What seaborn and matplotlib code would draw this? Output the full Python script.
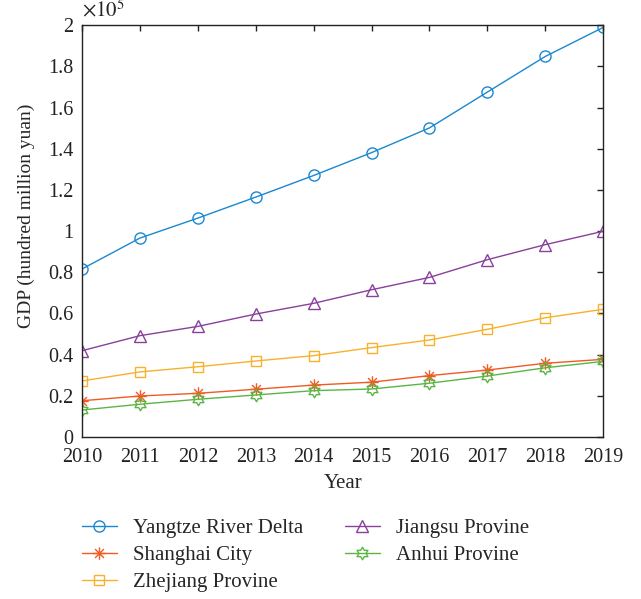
import numpy as np
import pandas as pd
import matplotlib
matplotlib.use("Agg")
import matplotlib.pyplot as plt
from matplotlib.path import Path
import seaborn as sns

years = list(range(2010, 2020))
yangtze = [81600, 96600, 106300, 116500, 127000, 138100, 150100, 167500, 184800, 198900]
shanghai = [17600, 19900, 21200, 23200, 25200, 26600, 29800, 32500, 35800, 37700]
zhejiang = [27200, 31600, 34100, 36900, 39500, 43400, 47100, 52300, 57900, 62000]
jiangsu = [41900, 49200, 53700, 59700, 64900, 71500, 77500, 86100, 93400, 99900]
anhui = [13100, 15900, 18300, 20400, 22500, 23300, 26100, 29600, 33600, 36700]
series_names = ["Yangtze River Delta", "Shanghai City", "Zhejiang Provine",
                "Jiangsu Provine", "Anhui Provine"]
y_ticks = [0, 0.2, 0.4, 0.6, 0.8, 1, 1.2, 1.4, 1.6, 1.8, 2]
y_tick_labels = ["0", "0.2", "0.4", "0.6", "0.8", "1", "1.2", "1.4", "1.6", "1.8", "2"]

df = pd.DataFrame({"Year": years * 5,
                   "GDP": np.array(yangtze + shanghai + zhejiang + jiangsu + anhui) / 1e5,
                   "Series": sum([[n] * len(years) for n in series_names], [])})

sns.set_theme(style="white")
plt.rcParams['font.family'] = ['Liberation Serif', 'DejaVu Serif']
plt.rcParams['mathtext.fontset'] = 'stix'

# markers
ast_verts, ast_codes = [], []
for ang in [0, 45, 90, 135]:
    a = np.deg2rad(ang)
    ast_verts += [(np.cos(a), np.sin(a)), (-np.cos(a), -np.sin(a))]
    ast_codes += [Path.MOVETO, Path.LINETO]
asterisk = Path(ast_verts, ast_codes)
hv = []
for k in range(12):
    r = 1.0 if k % 2 == 0 else 1 / np.sqrt(3)
    a = np.deg2rad(90 + 30 * k)
    hv.append((r * np.cos(a), r * np.sin(a)))
hv.append(hv[0])
hexagram = Path(hv, closed=True)

colors = ["#1a88d0", "#f05a23", "#f8b12a", "#8a3f9c", "#5bb545"]
markers = ["o", asterisk, "s", "^", hexagram]
sizes = [8, 9, 7, 9, 9]

fig = plt.figure(figsize=(6.41, 5.99), dpi=100)
ax = fig.add_axes([0.128, 0.2705, 0.813, 0.6875])
for name, c, m, s in zip(series_names, colors, markers, sizes):
    sub = df[df["Series"] == name]
    sns.lineplot(data=sub, x="Year", y="GDP", ax=ax, color=c, marker=m,
                 markersize=s, markerfacecolor="none", markeredgecolor=c,
                 markeredgewidth=1.0, linewidth=1.0, label=name)

ax.set_xlim(2010, 2019)
ax.set_ylim(0, 2)
ax.set_xticks(years)
ax.set_xticklabels([str(y) for y in years])
ax.set_yticks(y_ticks)
ax.set_yticklabels(y_tick_labels)
ax.tick_params(direction="in", length=4, width=1, top=True, right=True,
               labelsize=14.5, colors="#222222")
ax.tick_params(axis="x", pad=8)
ax.tick_params(axis="y", pad=6)
for sp in ax.spines.values():
    sp.set_color("#222222")
    sp.set_linewidth(1.0)
ax.set_xlabel("Year", fontsize=15, labelpad=5)
ax.set_ylabel("GDP (hundred million yuan)", fontsize=14)
ax.yaxis.set_label_coords(-0.090, 0.536)
ax.text(0.0, 1.008, r"$\times10^5$", transform=ax.transAxes, fontsize=15,
        ha="left", va="bottom", color="#222222")

fig.legend(*ax.get_legend_handles_labels(), loc="upper left",
           bbox_to_anchor=(0.099, 0.165), ncol=2, frameon=False,
           fontsize=15, handlelength=1.65, columnspacing=2.0, labelspacing=0.35,
           handletextpad=0.8, borderpad=0.4)
ax.get_legend().remove()

fig.savefig("out.png", dpi=100)
